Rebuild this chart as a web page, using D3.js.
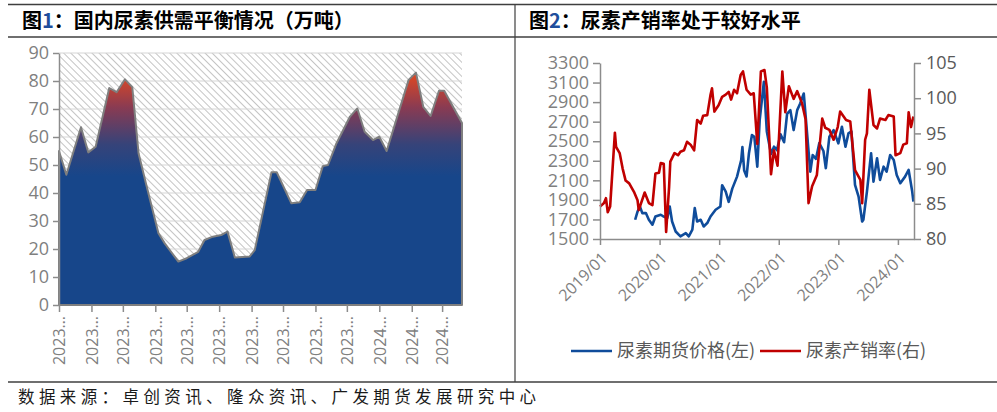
<!DOCTYPE html>
<html><head><meta charset="utf-8">
<script src="https://cdn.jsdelivr.net/npm/d3@7"></script>
<style>body{margin:0;background:#fff} svg{display:block}</style>
</head><body>
<svg id="c" width="997" height="412"></svg>
<script>
// ---------- Data ----------
const title1 = "图1：国内尿素供需平衡情况（万吨）";
const title2 = "图2：尿素产销率处于较好水平";
const sourceText = "数据来源：卓创资讯、隆众资讯、广发期货发展研究中心";

// Figure 1: supply-demand balance (10k tons)
const balanceDates = ["2023-03-01","2023-03-08","2023-03-22","2023-03-29","2023-04-05","2023-04-18","2023-04-25","2023-05-03","2023-05-10","2023-05-16","2023-05-23","2023-06-04","2023-06-10","2023-06-23","2023-07-01","2023-07-12","2023-07-18","2023-07-26","2023-08-03","2023-08-09","2023-08-16","2023-08-30","2023-09-04","2023-09-20","2023-09-25","2023-10-09","2023-10-17","2023-10-24","2023-11-01","2023-11-08","2023-11-13","2023-11-21","2023-12-04","2023-12-11","2023-12-18","2023-12-26","2024-01-01","2024-01-08","2024-01-29","2024-02-05","2024-02-12","2024-02-19","2024-02-27","2024-03-03","2024-03-20"];
const balanceValues = [55,46.5,63.5,54.5,56.5,77.5,76,80.6,77.8,54.2,43.5,25.6,22,15.5,16.7,19,23.2,24.4,25,26.2,17,17.3,19.6,47.4,47.4,36.3,36.7,41.1,41.1,49.6,50,57.7,67.3,70.2,61.9,58.9,60.1,55,80.4,83,70.8,67.5,76.5,76.5,65];
const balanceYTicks = [0,10,20,30,40,50,60,70,80,90];
const balanceXTickDates = ["2023-03-01","2023-04-01","2023-05-01","2023-06-01","2023-07-01","2023-08-01","2023-09-01","2023-10-01","2023-11-01","2023-12-01","2024-01-01","2024-02-01","2024-03-01"];
const balanceXTickLabels = ["2023…","2023…","2023…","2023…","2023…","2023…","2023…","2023…","2023…","2023…","2024…","2024…","2024…"];

// Figure 2: urea futures price (left) and production-sales rate (right); time in decimal years
const priceTime = [2019.59,2019.63,2019.67,2019.71,2019.77,2019.82,2019.88,2019.93,2020.02,2020.07,2020.13,2020.17,2020.21,2020.27,2020.35,2020.44,2020.49,2020.55,2020.59,2020.63,2020.69,2020.74,2020.80,2020.855,2020.94,2021.02,2021.05,2021.11,2021.16,2021.22,2021.30,2021.37,2021.39,2021.42,2021.46,2021.50,2021.55,2021.59,2021.64,2021.68,2021.75,2021.80,2021.87,2021.92,2021.97,2022.03,2022.09,2022.14,2022.195,2022.25,2022.31,2022.36,2022.42,2022.50,2022.53,2022.57,2022.625,2022.68,2022.75,2022.79,2022.85,2022.92,2023.00,2023.06,2023.12,2023.17,2023.22,2023.28,2023.34,2023.40,2023.42,2023.48,2023.55,2023.59,2023.65,2023.70,2023.76,2023.81,2023.87,2023.93,2023.98,2024.04,2024.12,2024.18,2024.24,2024.26];
const priceValue = [1697,1781,1832,1765,1765,1697,1646,1730,1748,1730,1714,1832,1679,1577,1527,1561,1527,1595,1816,1679,1697,1628,1663,1730,1799,1832,2050,1985,1880,2015,2138,2308,2440,2200,2140,2377,2563,2546,2240,2716,3107,2600,2370,2444,2410,2570,2490,2780,2818,2614,2818,2886,2988,2400,2189,2359,2320,2480,2400,2224,2546,2614,2478,2648,2444,2580,2600,2053,1934,1679,1697,1985,2377,2087,2326,2104,2240,2189,2359,2308,2155,2070,2138,2206,1985,1883];
const rateTime = [2019.00,2019.067,2019.10,2019.13,2019.17,2019.25,2019.27,2019.33,2019.38,2019.43,2019.49,2019.57,2019.63,2019.65,2019.75,2019.82,2019.88,2019.93,2019.99,2020.02,2020.07,2020.11,2020.16,2020.18,2020.25,2020.31,2020.35,2020.41,2020.46,2020.52,2020.58,2020.63,2020.69,2020.73,2020.80,2020.855,2020.88,2020.92,2020.99,2021.05,2021.11,2021.16,2021.20,2021.25,2021.30,2021.36,2021.40,2021.46,2021.53,2021.58,2021.64,2021.70,2021.76,2021.80,2021.87,2021.92,2021.98,2022.06,2022.11,2022.17,2022.25,2022.31,2022.39,2022.45,2022.50,2022.56,2022.64,2022.73,2022.78,2022.85,2022.92,2022.99,2023.03,2023.13,2023.20,2023.28,2023.37,2023.40,2023.45,2023.48,2023.52,2023.59,2023.65,2023.70,2023.79,2023.84,2023.93,2023.96,2024.04,2024.09,2024.15,2024.18,2024.22,2024.26];
const rateValue = [84.6,85.1,85.8,83.8,84.6,95.1,93.1,92.2,90.0,88.3,87.9,86.7,85.5,84.1,86.6,85.1,84.8,89.3,89.4,90.8,90.7,81.0,87.4,91.0,92.2,91.9,92.4,92.6,93.8,93.4,92.6,96.9,96.4,97.5,97.6,100.5,101.4,98.1,99.0,100.2,100.5,100.9,99.8,101.2,100.7,103.3,103.8,101.2,100.5,100.7,93.5,103.8,104.0,101.5,89.2,92.6,90.4,103.8,98.0,101.7,99.9,101.0,99.3,97.0,85.1,87.5,89.1,97.1,95.8,95.5,94.1,95.9,98.1,96.9,96.7,89.8,88.4,85.1,94.1,95.0,101.2,96.2,95.7,97.1,96.9,97.6,97.4,91.9,92.2,93.4,93.6,98.0,95.9,97.4];
const priceTicks = [1500,1700,1900,2100,2300,2500,2700,2900,3100,3300];
const rateTicks = [80,85,90,95,100,105];
const fig2XTicks = [2019,2020,2021,2022,2023,2024];
const fig2XTickLabels = ["2019/01","2020/01","2021/01","2022/01","2023/01","2024/01"];
const legendNames = ["尿素期货价格(左)","尿素产销率(右)"];
const seriesColors = ["#0f4c9b","#c00000"];

// ---------- Drawing ----------
const NUM_FONT = "'Open Sans','Noto Sans',sans-serif";
const CJK_FONT = "'Noto Sans CJK SC','Noto Sans',sans-serif";
const svg = d3.select("#c");
const defs = svg.append("defs");

// frame lines
const frameCol = "#3f3f3f";
svg.append("line").attr("x1",8).attr("x2",997).attr("y1",4.5).attr("y2",4.5).attr("stroke",frameCol).attr("stroke-width",1.5);
svg.append("line").attr("x1",8).attr("x2",997).attr("y1",37).attr("y2",37).attr("stroke",frameCol).attr("stroke-width",1.5);
svg.append("line").attr("x1",8).attr("x2",997).attr("y1",382).attr("y2",382).attr("stroke",frameCol).attr("stroke-width",1.5);
svg.append("line").attr("x1",515).attr("x2",515).attr("y1",4).attr("y2",382).attr("stroke",frameCol).attr("stroke-width",1.2);

function title(x, txt){
  const t = svg.append("text").attr("x",x).attr("y",28).attr("font-family",CJK_FONT)
    .attr("font-size",20).attr("font-weight",700).attr("fill","#000");
  const m = txt.match(/^(图)(\d)(.*)$/);
  t.append("tspan").text(m[1]);
  t.append("tspan").attr("fill","#1f4e9c").text(m[2]);
  t.append("tspan").text(m[3]);
}
title(22, title1);
title(529, title2);

svg.append("text").attr("x",18).attr("y",403).attr("font-family",CJK_FONT).attr("font-size",16.5)
  .attr("letter-spacing","4.4px").attr("fill","#1a1a1a").text(sourceText);

// ---- Figure 1 ----
const parse = d3.timeParse("%Y-%m-%d");
const balance = balanceDates.map((d,i)=>({date:parse(d), v:balanceValues[i]}));
const xL = d3.scaleTime().domain([parse("2023-03-01"), parse("2024-03-20")]).range([59,462]);
const yL = d3.scaleLinear().domain([0,90]).range([305,53]);

const pat = defs.append("pattern").attr("id","hatch").attr("patternUnits","userSpaceOnUse")
  .attr("width",5).attr("height",5).attr("patternTransform","rotate(45)");
pat.append("rect").attr("width",5).attr("height",5).attr("fill","#ffffff");
pat.append("line").attr("x1",0).attr("x2",5).attr("y1",2.5).attr("y2",2.5).attr("stroke","#c4c4c4").attr("stroke-width",1);

const grad = defs.append("linearGradient").attr("id","grad").attr("gradientUnits","userSpaceOnUse")
  .attr("x1",0).attr("x2",0).attr("y1",yL(46)).attr("y2",yL(84));
grad.append("stop").attr("offset",0).attr("stop-color","#17468a");
grad.append("stop").attr("offset",0.3).attr("stop-color","#364379");
grad.append("stop").attr("offset",0.65).attr("stop-color","#8a3b52");
grad.append("stop").attr("offset",1).attr("stop-color","#ea4a1d");

const g1 = svg.append("g");
g1.append("rect").attr("x",xL.range()[0]).attr("y",yL(90)).attr("width",xL.range()[1]-xL.range()[0])
  .attr("height",yL(0)-yL(90)).attr("fill","url(#hatch)");
g1.selectAll("line.grid").data(balanceYTicks.slice(1)).join("line").attr("class","grid")
  .attr("x1",xL.range()[0]).attr("x2",xL.range()[1]).attr("y1",d=>yL(d)).attr("y2",d=>yL(d))
  .attr("stroke","#d6d6d6").attr("stroke-width",1.2);
const area = d3.area().x(d=>xL(d.date)).y0(yL(0)).y1(d=>yL(d.v));
g1.append("path").datum(balance).attr("d",area).attr("fill","url(#grad)")
  .attr("stroke","#7f7f7f").attr("stroke-width",2).attr("stroke-linejoin","round");

const axYL = g1.append("g").attr("transform",`translate(${xL.range()[0]},0)`)
  .call(d3.axisLeft(yL).tickValues(balanceYTicks).tickSize(6).tickPadding(4).tickSizeOuter(0));
const axXL = g1.append("g").attr("transform",`translate(0,${yL(0)})`)
  .call(d3.axisBottom(xL).tickValues(balanceXTickDates.map(parse)).tickSize(7).tickSizeOuter(0)
    .tickFormat((d,i)=>balanceXTickLabels[i]));
axXL.selectAll("text").attr("transform","rotate(-90)").attr("text-anchor","end")
  .attr("x",-11).attr("y",0).attr("dy","0.36em").attr("font-size",16);
axXL.select(".domain").remove();
[axYL, axXL].forEach(a=>{
  a.selectAll(".domain").attr("stroke","#8c8c8c").attr("stroke-width",1.5);
  a.selectAll(".tick line").attr("stroke","#8c8c8c").attr("stroke-width",1.5);
  a.selectAll("text").attr("fill","#7f7f7f").attr("font-family",NUM_FONT);
});
axYL.selectAll("text").attr("font-size",18);

// ---- Figure 2 ----
const xR = d3.scaleLinear().domain([2019, 2024.27]).range([600,914]);
const yP = d3.scaleLinear().domain([1500,3300]).range([239,63]);
const yR = d3.scaleLinear().domain([80,105]).range([239,63]);
const g2 = svg.append("g");

const price = priceTime.map((t,i)=>({t, v:priceValue[i]}));
const rate = rateTime.map((t,i)=>({t, v:rateValue[i]}));
g2.append("path").datum(price).attr("fill","none").attr("stroke",seriesColors[0]).attr("stroke-width",2.6)
  .attr("stroke-linejoin","round").attr("d",d3.line().x(d=>xR(d.t)).y(d=>yP(d.v)));
g2.append("path").datum(rate).attr("fill","none").attr("stroke",seriesColors[1]).attr("stroke-width",2.6)
  .attr("stroke-linejoin","round").attr("d",d3.line().x(d=>xR(d.t)).y(d=>yR(d.v)));

const axP = g2.append("g").attr("transform",`translate(${xR.range()[0]},0)`)
  .call(d3.axisLeft(yP).tickValues(priceTicks).tickFormat(d3.format("d")).tickSize(7).tickPadding(4).tickSizeOuter(0));
const axR = g2.append("g").attr("transform",`translate(${xR.range()[1]},0)`)
  .call(d3.axisRight(yR).tickValues(rateTicks).tickFormat(d3.format("d")).tickSize(7).tickPadding(5).tickSizeOuter(0));
const axX2 = g2.append("g").attr("transform",`translate(0,${yP(1500)})`)
  .call(d3.axisBottom(xR).tickValues(fig2XTicks).tickSize(6).tickSizeOuter(0)
    .tickFormat((d,i)=>fig2XTickLabels[i]));
[axP, axR, axX2].forEach(a=>{
  a.selectAll(".domain").attr("stroke","#8c8c8c").attr("stroke-width",1.5);
  a.selectAll(".tick line").attr("stroke","#8c8c8c").attr("stroke-width",1.5);
  a.selectAll("text").attr("fill","#7f7f7f").attr("font-family",NUM_FONT).attr("font-size",18);
});
axR.selectAll("text").attr("fill","#595959");
axX2.selectAll("text").attr("font-size",16).attr("text-anchor","end")
  .attr("transform","translate(4,16) rotate(-45)").attr("y",0).attr("x",0).attr("dy","0.35em");

// legend
const leg = svg.append("g").attr("font-family",CJK_FONT).attr("font-size",18).attr("fill","#595959");
const legX = [571, 760];
legendNames.forEach((n,i)=>{
  leg.append("line").attr("x1",legX[i]).attr("x2",legX[i]+41).attr("y1",351).attr("y2",351)
    .attr("stroke",seriesColors[i]).attr("stroke-width",2.6);
  leg.append("text").attr("x",legX[i]+46).attr("y",351).attr("dy","0.35em").text(n);
});
</script></body></html>
